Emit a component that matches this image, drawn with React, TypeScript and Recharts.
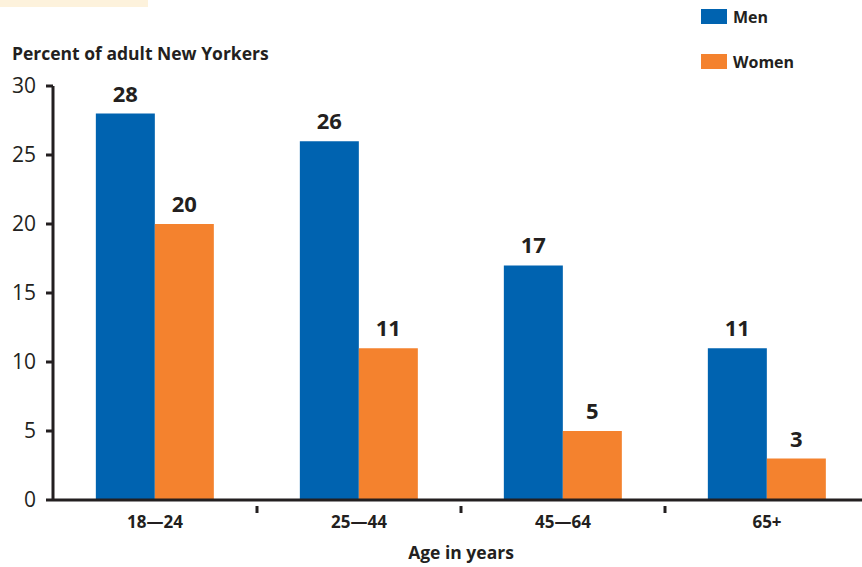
import React from "react";
import { Bar, BarChart, LabelList, XAxis, YAxis } from "recharts";

const ageGroups = ["18—24", "25—44", "45—64", "65+"];
const menValues = [28, 26, 17, 11];
const womenValues = [20, 11, 5, 3];
const yTicks = [0, 5, 10, 15, 20, 25, 30];

const data = ageGroups.map((age, i) => ({ age, men: menValues[i], women: womenValues[i] }));

const INK = "#231f20";
const BLUE = "#0063b0";
const ORANGE = "#f4822e";
const FONT = "'Open Sans', sans-serif";

const series = [
  { key: "men", name: "Men", color: BLUE },
  { key: "women", name: "Women", color: ORANGE },
];

const CHART_W = 870;
const CHART_H = 567;
const MARGIN = { top: 86, right: 1, bottom: 0, left: 0 };
const Y_AXIS_W = 53;
const BAND = (CHART_W - MARGIN.left - MARGIN.right - Y_AXIS_W) / ageGroups.length;

// category label in the middle of the band, tick mark on the band's left edge
function AgeTick(props: any) {
  const { x, y, payload, index } = props;
  return (
    <g>
      {index > 0 && (
        <line x1={x - BAND / 2} x2={x - BAND / 2} y1={y - 2} y2={y + 5} stroke={INK} strokeWidth={3} />
      )}
      <text x={x} y={y + 20} textAnchor="middle" fill={INK} fontFamily={FONT} fontWeight={700} fontSize={17}>
        {payload.value}
      </text>
    </g>
  );
}

function SeriesLegend() {
  return (
    <div style={{ position: "absolute", left: 701, top: 9, fontFamily: FONT }}>
      {series.map((s) => (
        <div key={s.key} style={{ display: "flex", alignItems: "center", height: 15, marginBottom: 30 }}>
          <span style={{ display: "inline-block", width: 26, height: 15, background: s.color, marginRight: 6 }} />
          <span style={{ fontSize: 16, fontWeight: 700, color: INK }}>{s.name}</span>
        </div>
      ))}
    </div>
  );
}

export default function App() {
  return (
    <div style={{ position: "absolute", left: 0, top: 0, width: 862, height: 567, overflow: "hidden", background: "#fff" }}>
      <div style={{ position: "absolute", left: 0, top: 0, width: 148, height: 7, background: "#fdf2dc" }} />
      <div
        style={{
          position: "absolute",
          left: 12,
          top: 41,
          fontFamily: FONT,
          fontWeight: 700,
          fontSize: 17.5,
          color: INK,
          whiteSpace: "nowrap",
        }}
      >
        Percent of adult New Yorkers
      </div>
      <SeriesLegend />
      <BarChart width={CHART_W} height={CHART_H} data={data} margin={MARGIN} barCategoryGap="21%" barGap={0}>
        <XAxis
          dataKey="age"
          height={67}
          axisLine={{ stroke: INK, strokeWidth: 3 }}
          tickLine={false}
          tick={<AgeTick />}
          interval={0}
          label={{ value: "Age in years", position: "insideBottom", offset: 8, fill: INK, fontFamily: FONT, fontWeight: 700, fontSize: 17.5 }}
        />
        <YAxis
          width={Y_AXIS_W}
          domain={[0, 30]}
          ticks={yTicks}
          interval={0}
          axisLine={{ stroke: INK, strokeWidth: 3 }}
          tickLine={{ stroke: INK, strokeWidth: 3 }}
          tickSize={7}
          tickMargin={10}
          tick={{ fill: INK, fontFamily: FONT, fontSize: 21 }}
        />
        {series.map((s) => (
          <Bar key={s.key} dataKey={s.key} name={s.name} fill={s.color} isAnimationActive={false}>
            <LabelList dataKey={s.key} position="top" offset={12} fill={INK} fontFamily={FONT} fontWeight={700} fontSize={22} />
          </Bar>
        ))}
      </BarChart>
    </div>
  );
}
